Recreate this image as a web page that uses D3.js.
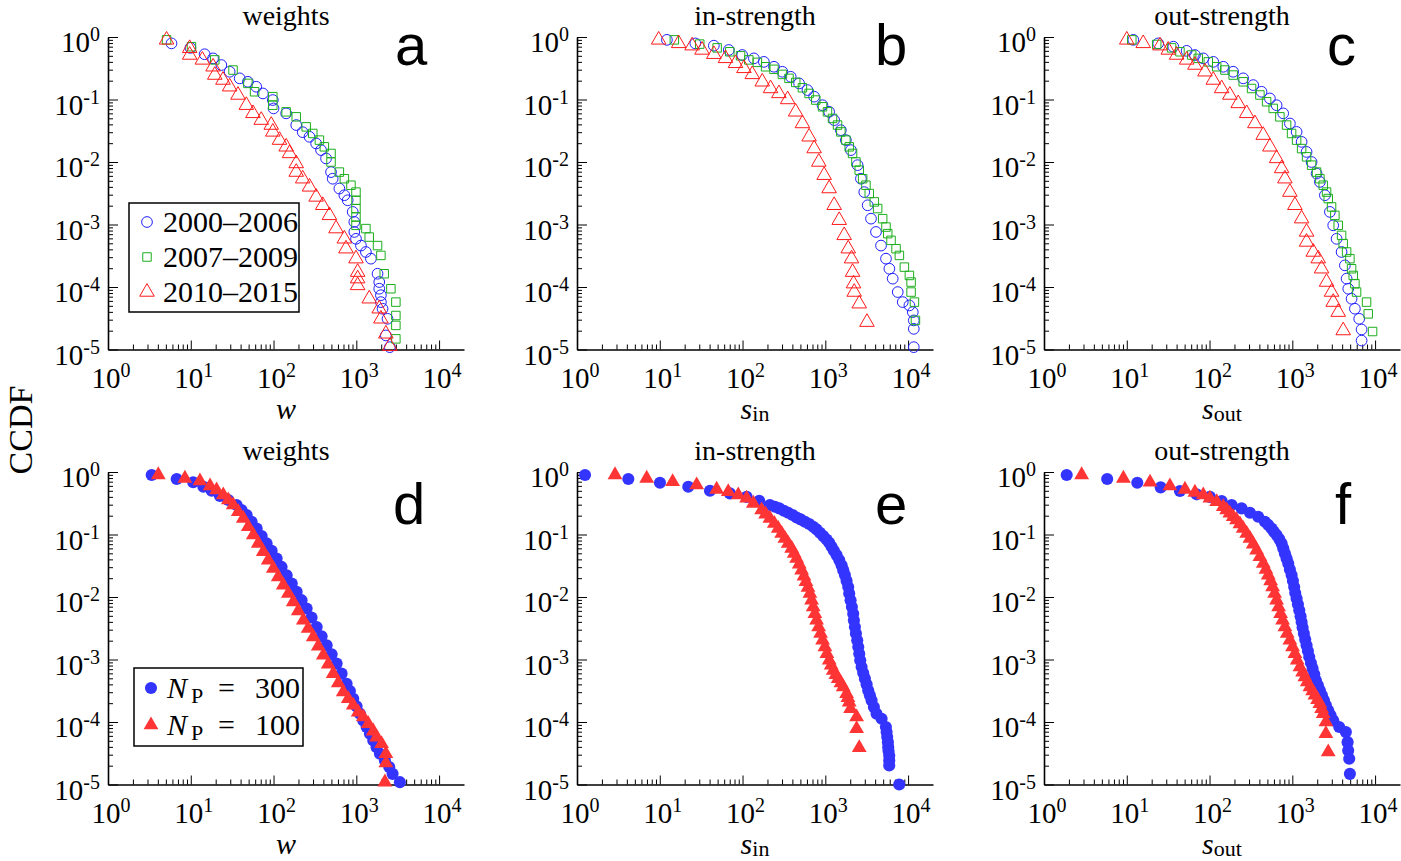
<!DOCTYPE html>
<html><head><meta charset="utf-8">
<script src="https://cdn.jsdelivr.net/npm/d3@7"></script>
<style>body{margin:0;background:#fff}</style>
</head><body>
<svg id="chart" width="1401" height="861" xmlns="http://www.w3.org/2000/svg"></svg>
<script>
// ---------------- DATA ----------------
const xTickExp = [0, 1, 2, 3, 4];
const yTickExp = [0, -1, -2, -3, -4, -5];
const panelTitles = ["weights", "in-strength", "out-strength", "weights", "in-strength", "out-strength"];
const panelLetters = ["a", "b", "c", "d", "e", "f"];
const topLegend = ["2000\u20132006", "2007\u20132009", "2010\u20132015"];
const bottomLegend = ["300", "100"];

// panel a (weights), periods
const aP1 = [[5.85,0.79],[9.9,0.67],[14.7,0.53],[18.6,0.455],[23.4,0.356],[29.5,0.278],[39,0.218],[49,0.192],[61.8,0.16],[74.3,0.125],[98,0.098],[100,0.072],[142,0.06],[188,0.039],[225,0.030],[272,0.0253],[327,0.0198],[375,0.0155],[431,0.0114],[495,0.0069],[518,0.0054],[624,0.00376],[717,0.00294],[787,0.00244],[904,0.00159],[946,0.0011],[946,0.00076],[991,0.00059],[1138,0.00046],[1306,0.000363],[1500,0.000284],[1805,0.000163],[1892,0.00012],[1892,0.0000938],[1982,0.000074],[1982,0.0000573],[2075,0.0000449],[2383,0.000031],[2275,0.0000168],[2541,0.0000109]];
const aP2 = [[5.1,0.9],[10.2,0.70],[19.5,0.43],[32.4,0.296],[49,0.181],[59,0.133],[98,0.111],[98,0.081],[142,0.0635],[188,0.0528],[248,0.0365],[298,0.0286],[358,0.0224],[411,0.0175],[495,0.0137],[495,0.01],[624,0.0069],[717,0.0054],[862,0.00425],[991,0.0033],[991,0.00244],[991,0.0018],[991,0.00132],[991,0.00097],[1306,0.00086],[1432,0.00063],[1805,0.00046],[1982,0.00032],[2173,0.000163],[2617,0.0000938],[3006,0.0000573],[3006,0.000035],[3006,0.0000243],[3006,0.0000148]];
const aP3 = [[5.1,0.9],[9.7,0.66],[9.7,0.515],[13.8,0.43],[18.6,0.334],[19.5,0.246],[24.5,0.205],[29.5,0.16],[37.2,0.118],[46.9,0.081],[56.4,0.06],[71,0.0468],[93.8,0.039],[98,0.0303],[118,0.0224],[142,0.0175],[156,0.0137],[188,0.00946],[188,0.0069],[225,0.0054],[272,0.004],[327,0.00276],[393,0.00203],[473,0.0014],[569,0.00086],[717,0.00059],[750,0.00041],[991,0.000284],[1038,0.000173],[1038,0.000136],[1038,0.000106],[1432,0.0000649],[1892,0.0000449],[1982,0.000031],[2275,0.0000178],[2541,0.0000113]];

// panel b (in-strength), periods
const bP1 = [[12.2,0.9],[26.9,0.79],[45,0.726],[68.2,0.62],[99,0.515],[137,0.455],[181,0.40],[240,0.334],[303,0.278],[382,0.231],[482,0.181],[608,0.1415],[733,0.111],[925,0.081],[1112,0.0635],[1279,0.0468],[1541,0.0323],[1772,0.0224],[2037,0.0155],[2455,0.0089],[2692,0.0054],[2955,0.0033],[3250,0.00203],[3564,0.00124],[4094,0.00076],[4709,0.00046],[5410,0.000284],[5940,0.000196],[6520,0.000136],[7500,0.000083],[8620,0.0000573],[10370,0.0000507],[11400,0.0000396],[11720,0.0000292],[11720,0.0000214],[11720,0.0000109]];
const bP2 = [[15,0.9],[30.4,0.77],[49.3,0.67],[70.2,0.58],[94.6,0.50],[119,0.43],[151,0.393],[190,0.334],[240,0.304],[303,0.252],[364,0.218],[439,0.1875],[529,0.154],[637,0.125],[767,0.098],[925,0.0764],[1062,0.0635],[1222,0.0498],[1404,0.039],[1541,0.0303],[1772,0.0224],[1945,0.0175],[2134,0.0137],[2343,0.01],[2570,0.0074],[2825,0.0054],[3097,0.00425],[3396,0.00313],[3906,0.0023],[4287,0.0018],[4932,0.00124],[5410,0.00091],[5675,0.000714],[6223,0.000558],[7155,0.00041],[7850,0.00032],[9020,0.000208],[10370,0.000153],[10870,0.00012],[10870,0.000083],[11930,0.0000573],[12270,0.0000292]];
const bP3 = [[9.7,0.9],[16.9,0.79],[24.6,0.726],[32.4,0.62],[45,0.53],[62.2,0.455],[82.3,0.379],[104,0.315],[131,0.252],[173,0.192],[218,0.15],[275,0.125],[351,0.1],[438,0.0635],[529,0.0413],[637,0.0253],[733,0.0164],[834,0.01],[968,0.00614],[1112,0.00376],[1279,0.00203],[1472,0.00117],[1690,0.00067],[1892,0.00041],[2075,0.000284],[2134,0.000173],[2193,0.000113],[2234,0.000083],[2570,0.000054],[3186,0.0000274]];

// panel c (out-strength), periods
const cP1 = [[12,0.9],[24,0.79],[36.5,0.70],[52.9,0.60],[66.6,0.515],[84,0.455],[111,0.40],[146.5,0.334],[193,0.278],[255,0.218],[337,0.17],[425,0.133],[536,0.104],[646,0.081],[776,0.06],[935,0.0413],[1127,0.0303],[1295,0.021],[1487,0.0145],[1710,0.01],[1964,0.00653],[2154,0.0048],[2475,0.00294],[2845,0.00159],[3120,0.00097],[3428,0.00059],[3938,0.000363],[4318,0.000222],[4527,0.000136],[4742,0.0000938],[5200,0.0000649],[5703,0.0000449],[6430,0.000031],[6870,0.0000209],[6870,0.0000139]];
const cP2 = [[11.5,0.9],[23,0.76],[34.8,0.67],[43.9,0.58],[60.8,0.515],[73,0.455],[96.5,0.40],[122,0.334],[153.5,0.296],[193,0.246],[255,0.192],[322,0.15],[406,0.118],[489,0.092],[588,0.072],[708,0.0528],[853,0.039],[980,0.0286],[1127,0.0224],[1295,0.0164],[1487,0.0121],[1710,0.0089],[1964,0.0069],[2154,0.0054],[2362,0.00425],[2594,0.0033],[2716,0.0026],[2980,0.00191],[3268,0.0014],[3586,0.00097],[3938,0.00067],[4120,0.000494],[4527,0.000363],[4963,0.000284],[5200,0.000196],[5445,0.000153],[5703,0.000113],[5975,0.000083],[7890,0.0000573],[8260,0.0000372],[9330,0.0000194]];
const cP3 = [[10,0.9],[15.8,0.79],[25.2,0.726],[31.7,0.62],[40,0.515],[52.9,0.43],[66.6,0.356],[88,0.278],[111,0.205],[140,0.15],[176,0.118],[222,0.0865],[281,0.06],[353,0.0413],[445,0.0269],[536,0.0175],[646,0.0114],[743,0.00787],[814,0.0054],[935,0.0033],[1075,0.00203],[1295,0.00124],[1487,0.00076],[1487,0.000525],[1790,0.000363],[2056,0.000284],[2256,0.000196],[2594,0.00012],[2980,0.000083],[3120,0.0000573],[3586,0.0000396],[4120,0.0000201]];

// panel d (weights), model N_P
const dN300 = [[3.37,0.895],[6.76,0.772],[10.7,0.684],[14.2,0.582],[17.9,0.502],[22.5,0.412],[28.4,0.356],[35.8,0.296],[41.1,0.246],[47.3,0.205],[54.3,0.16],[62.5,0.125],[71.8,0.0942],[82.5,0.072],[94.8,0.0548],[109,0.0413],[125,0.0303],[144,0.0223],[166,0.0164],[190,0.0121],[218,0.0089],[251,0.00653],[288,0.00469],[332,0.00332],[381,0.00235],[438,0.00169],[503,0.00121],[578,0.00086],[664,0.000594],[763,0.00041],[837,0.000313],[918,0.000236],[1007,0.000178],[1105,0.000136],[1213,0.000106],[1331,0.000083],[1460,0.0000649],[1602,0.0000507],[1758,0.0000396],[1928,0.000031],[2215,0.0000243],[2500,0.000019],[2742,0.0000148],[3362,0.0000109]];
const dN100 = [[4.05,0.9],[8.5,0.79],[12.9,0.718],[17.1,0.597],[20.5,0.515],[24.7,0.428],[28.4,0.356],[32.6,0.296],[37.5,0.231],[43.1,0.181],[49.5,0.133],[56.9,0.098],[65.4,0.072],[75.1,0.0528],[86.3,0.0389],[99.3,0.0286],[114,0.021],[131,0.0155],[151,0.0114],[173,0.00835],[199,0.006],[229,0.00425],[262,0.00313],[302,0.0023],[347,0.00163],[399,0.00117],[458,0.000838],[526,0.000594],[605,0.00042],[695,0.000301],[798,0.000236],[918,0.000185],[1054,0.000144],[1213,0.00012],[1393,0.0000938],[1602,0.0000714],[1758,0.0000573],[2019,0.0000449],[2277,0.000031],[2277,0.000022],[2215,0.0000109]];

// panel e (in-strength), model N_P
const eN300 = [[1.25,0.895],[4.17,0.772],[10.05,0.674],[22.1,0.582],[40.4,0.502],[70.4,0.455],[112,0.40],[159,0.347],[214,0.296],[246,0.278],[278,0.262],[316,0.24],[356,0.223],[403,0.205],[450,0.1875],[503,0.1745],[567,0.16],[640,0.147],[714,0.133],[785,0.1206],[861,0.1066],[944,0.0942],[1036,0.0834],[1115,0.0736],[1191,0.0635],[1270,0.0548],[1368,0.0468],[1472,0.039],[1574,0.0323],[1647,0.0269],[1725,0.0224],[1807,0.0181],[1892,0.0145],[1944,0.0114],[2020,0.0089],[2096,0.0069],[2173,0.0054],[2215,0.00425],[2277,0.0033],[2343,0.0026],[2430,0.00203],[2500,0.00159],[2570,0.00124],[2642,0.00097],[2744,0.00076],[2871,0.000608],[3008,0.000494],[3155,0.0004],[3299,0.00032],[3457,0.000267],[3622,0.000222],[3863,0.000173],[4159,0.000136],[4786,0.000113],[5395,0.000083],[5500,0.0000689],[5597,0.0000573],[5703,0.0000476],[5754,0.0000396],[5808,0.0000342],[5917,0.0000292],[5917,0.0000243],[5917,0.0000201],[7813,0.00001]];
const eN100 = [[2.88,0.9],[6.95,0.79],[14.3,0.70],[27.9,0.62],[48.7,0.527],[67.2,0.484],[88.7,0.428],[112,0.379],[135,0.315],[170,0.246],[190,0.212],[214,0.181],[242,0.15],[270,0.125],[297,0.104],[325,0.0865],[356,0.072],[392,0.06],[421,0.0498],[450,0.0413],[484,0.0336],[517,0.0269],[552,0.0215],[583,0.0175],[617,0.0142],[652,0.0114],[683,0.0089],[714,0.0069],[748,0.0054],[785,0.00425],[830,0.0033],[877,0.0026],[927,0.00203],[989,0.00159],[1045,0.00124],[1115,0.00097],[1178,0.00081],[1247,0.00067],[1343,0.000573],[1432,0.000494],[1543,0.00042],[1645,0.000363],[1807,0.000284],[1875,0.000245],[1944,0.000208],[2020,0.000163],[2388,0.00012],[2388,0.000078],[2570,0.0000387]];

// panel f (out-strength), model N_P
const fN300 = [[1.88,0.895],[5.8,0.772],[13.4,0.674],[25.7,0.568],[43.9,0.496],[69.8,0.439],[101,0.40],[140,0.343],[185,0.296],[244,0.262],[308,0.223],[387,0.192],[467,0.16],[512,0.1415],[562,0.125],[600,0.111],[646,0.098],[695,0.0844],[743,0.072],[777,0.06],[814,0.0498],[853,0.0413],[893,0.0344],[935,0.0276],[980,0.0224],[1017,0.0181],[1054,0.0145],[1084,0.0116],[1127,0.00946],[1169,0.00767],[1213,0.00614],[1259,0.00492],[1295,0.00399],[1331,0.00324],[1380,0.0026],[1432,0.00208],[1487,0.00169],[1543,0.00137],[1602,0.0011],[1679,0.00088],[1758,0.000714],[1841,0.00058],[1928,0.00046],[2038,0.000386],[2154,0.00032],[2277,0.000267],[2409,0.000222],[2545,0.000185],[2716,0.000153],[2900,0.000128],[3120,0.000106],[3687,0.000083],[4436,0.0000689],[4656,0.0000476],[4732,0.000035],[4867,0.0000258],[4963,0.0000148]];
const fN100 = [[2.85,0.9],[9.1,0.79],[19.1,0.684],[33.2,0.597],[50.5,0.527],[66.6,0.472],[84,0.428],[101,0.379],[122,0.334],[146.5,0.278],[161,0.246],[176,0.218],[193,0.192],[212,0.17],[233,0.147],[255,0.125],[281,0.104],[308,0.0865],[337,0.0702],[371,0.0562],[406,0.044],[446,0.0344],[480,0.0276],[512,0.0224],[547,0.0181],[578,0.0145],[611,0.0114],[646,0.0089],[683,0.0069],[722,0.0054],[763,0.00425],[814,0.0033],[868,0.0026],[935,0.00203],[1007,0.00159],[1075,0.00124],[1146,0.00097],[1236,0.00076],[1331,0.000624],[1419,0.000525],[1514,0.000436],[1632,0.000363],[1758,0.000313],[1875,0.000267],[2019,0.000228],[2154,0.000196],[2259,0.000163],[2362,0.000136],[2545,0.0001],[2545,0.0000649],[2716,0.000033]];

// ---------------- LAYOUT / STYLE ----------------
const svg = d3.select("#chart");
svg.append("rect").attr("width", 1401).attr("height", 861).attr("fill", "#fff");
const W = 356, H = 312.5;
const SERIF = '"Liberation Serif","Times New Roman",Times,serif';
const SANS = '"Liberation Sans",Arial,Helvetica,sans-serif';
const x = d3.scaleLog().domain([1, 2e4]).range([0, W]);
const y = d3.scaleLog().domain([1e-5, 1]).range([H, 0]);

const xMajor = xTickExp.map(e => Math.pow(10, e));
const yMajor = yTickExp.map(e => Math.pow(10, e));
const xMinor = [], yMinor = [];
for (let k = 0; k < 4; k++) for (let m = 2; m <= 9; m++) xMinor.push(m * Math.pow(10, k));
for (let k = -5; k < 0; k++) for (let m = 2; m <= 9; m++) yMinor.push(m * Math.pow(10, k));

const BLUE_O = "#1f1fff", GREEN_O = "#1cae1c", RED_O = "#ff1a1a";
const BLUE_F = "#3434ff", RED_F = "#ff3434";

const panels = [
  {x0:108, y0:37, letterX:395, letterY:65, xlab:["w",""], series:[[aP1,"circle",BLUE_O],[aP2,"square",GREEN_O],[aP3,"triangle",RED_O]], filled:false},
  {x0:577, y0:37, letterX:875, letterY:65, xlab:["s","in"], series:[[bP1,"circle",BLUE_O],[bP2,"square",GREEN_O],[bP3,"triangle",RED_O]], filled:false},
  {x0:1044, y0:37, letterX:1327, letterY:65, xlab:["s","out"], series:[[cP1,"circle",BLUE_O],[cP2,"square",GREEN_O],[cP3,"triangle",RED_O]], filled:false},
  {x0:108, y0:472, letterX:393, letterY:524, xlab:["w",""], series:[[dN300,"circle",BLUE_F],[dN100,"triangle",RED_F]], filled:true},
  {x0:577, y0:472, letterX:875, letterY:524, xlab:["s","in"], series:[[eN300,"circle",BLUE_F],[eN100,"triangle",RED_F]], filled:true},
  {x0:1044, y0:472, letterX:1335, letterY:524, xlab:["s","out"], series:[[fN300,"circle",BLUE_F],[fN100,"triangle",RED_F]], filled:true}
];

function symbolFor(shape, filled) {
  if (shape === "circle") return d3.symbol().type(d3.symbolCircle).size(filled ? 115 : 90);
  if (shape === "square") return d3.symbol().type(d3.symbolSquare).size(72);
  return d3.symbol().type(d3.symbolTriangle).size(filled ? 95 : 92);
}

function supLabel(sel, exp) {
  sel.append("tspan").text("10");
  sel.append("tspan").attr("dy", -11).attr("font-size", 20).text(exp < 0 ? "-" + Math.abs(exp) : String(exp));
}

panels.forEach((p, i) => {
  const g = svg.append("g").attr("transform", `translate(${p.x0},${p.y0})`);

  // minor ticks
  const xm = g.append("g").attr("transform", `translate(0,${H})`)
    .call(d3.axisBottom(x).tickValues(xMinor).tickSizeInner(-5).tickSizeOuter(0).tickFormat(""));
  const ym = g.append("g")
    .call(d3.axisLeft(y).tickValues(yMinor).tickSizeInner(-5).tickSizeOuter(0).tickFormat(""));
  // major ticks
  const xM = g.append("g").attr("transform", `translate(0,${H})`)
    .call(d3.axisBottom(x).tickValues(xMajor).tickSizeInner(-9).tickSizeOuter(0).tickFormat(""));
  const yM = g.append("g")
    .call(d3.axisLeft(y).tickValues(yMajor).tickSizeInner(-10).tickSizeOuter(0).tickFormat(""));
  [xm, ym].forEach(a => a.select(".domain").remove());
  [xm, ym, xM, yM].forEach(a => a.selectAll(".tick line").attr("stroke", "#000").attr("stroke-width", 1));
  [xM, yM].forEach(a => a.select(".domain").attr("stroke", "#000").attr("stroke-width", 1.6));

  // tick labels
  xTickExp.forEach(e => {
    const t = g.append("text").attr("x", x(Math.pow(10, e)) + 3).attr("y", H + 38)
      .attr("text-anchor", "middle").attr("font-family", SERIF).attr("font-size", 29).attr("fill", "#000");
    supLabel(t, e);
  });
  yTickExp.forEach(e => {
    const t = g.append("text").attr("x", -8).attr("y", y(Math.pow(10, e)) + 15)
      .attr("text-anchor", "end").attr("font-family", SERIF).attr("font-size", 29).attr("fill", "#000");
    supLabel(t, e);
  });

  // title
  g.append("text").attr("x", W / 2).attr("y", -12).attr("text-anchor", "middle")
    .attr("font-family", SERIF).attr("font-size", 28).attr("fill", "#000").text(panelTitles[i]);

  // x label
  const xl = g.append("text").attr("x", W / 2).attr("y", H + 69).attr("text-anchor", "middle")
    .attr("font-family", SERIF).attr("font-size", 30).attr("fill", "#000");
  xl.append("tspan").attr("font-style", "italic").text(p.xlab[0]);
  if (p.xlab[1]) xl.append("tspan").attr("font-size", 22).attr("dy", 2).text(p.xlab[1]);

  // data
  p.series.forEach(([data, shape, color]) => {
    g.append("g").selectAll("path").data(data).join("path")
      .attr("d", symbolFor(shape, p.filled))
      .attr("transform", d => `translate(${x(d[0])},${y(d[1])})`)
      .attr("fill", p.filled ? color : "none")
      .attr("stroke", p.filled ? "none" : color)
      .attr("stroke-width", 1);
  });

  // panel letter
  svg.append("text").attr("x", p.letterX).attr("y", p.letterY)
    .attr("font-family", SANS).attr("font-size", 58).attr("fill", "#000").text(panelLetters[i]);
});

// CCDF label
svg.append("text").attr("transform", "translate(32,430) rotate(-90)").attr("text-anchor", "middle")
  .attr("font-family", SERIF).attr("font-size", 34).attr("fill", "#000").text("CCDF");

// legend panel a
const lgA = svg.append("g");
lgA.append("rect").attr("x", 129).attr("y", 203).attr("width", 170).attr("height", 109)
  .attr("fill", "#fff").attr("stroke", "#000").attr("stroke-width", 1.5);
const lgShapesA = [["circle", BLUE_O], ["square", GREEN_O], ["triangle", RED_O]];
topLegend.forEach((lab, k) => {
  const cy = 222 + k * 35;
  lgA.append("path").attr("d", symbolFor(lgShapesA[k][0], false))
    .attr("transform", `translate(147,${cy})`).attr("fill", "none")
    .attr("stroke", lgShapesA[k][1]).attr("stroke-width", 1);
  lgA.append("text").attr("x", 163).attr("y", cy + 10).attr("font-family", SERIF)
    .attr("font-size", 30).attr("fill", "#000").text(lab);
});

// legend panel d
const lgD = svg.append("g");
lgD.append("rect").attr("x", 134).attr("y", 668).attr("width", 169).attr("height", 78)
  .attr("fill", "#fff").attr("stroke", "#000").attr("stroke-width", 1.5);
const lgShapesD = [["circle", BLUE_F], ["triangle", RED_F]];
bottomLegend.forEach((lab, k) => {
  const cy = 688 + k * 37;
  lgD.append("path").attr("d", symbolFor(lgShapesD[k][0], true))
    .attr("transform", `translate(151,${cy})`).attr("fill", lgShapesD[k][1]);
  const t = lgD.append("text").attr("y", cy + 10).attr("font-family", SERIF).attr("font-size", 30).attr("fill", "#000");
  t.append("tspan").attr("x", 167).attr("font-style", "italic").text("N");
  t.append("tspan").attr("x", 191).attr("dy", 5).attr("font-size", 22).text("P");
  t.append("tspan").attr("x", 218).attr("dy", -5).text("=");
  t.append("tspan").attr("x", 255).text(lab);
});
</script>
</body></html>
